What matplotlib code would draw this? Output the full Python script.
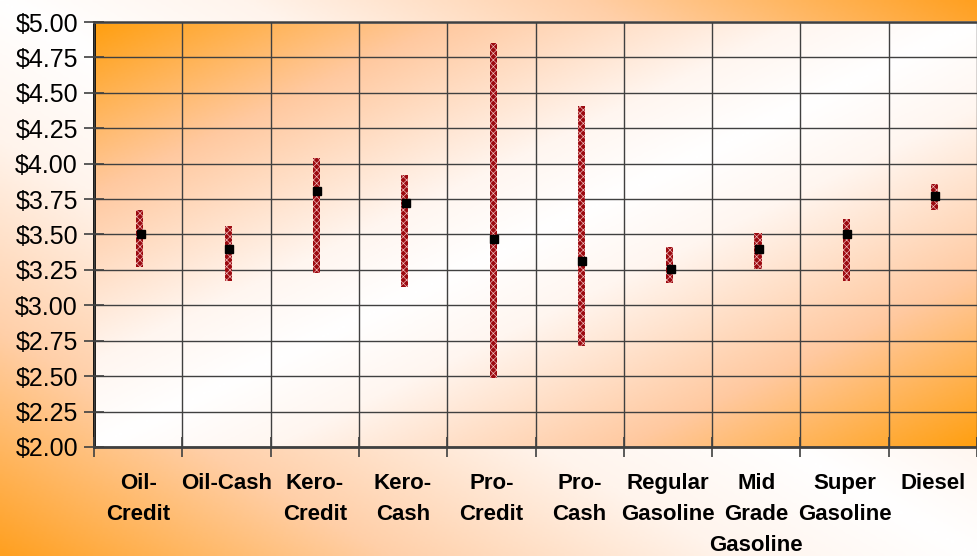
import numpy as np
import matplotlib
matplotlib.use("Agg")
import matplotlib.pyplot as plt
from matplotlib.colors import LinearSegmentedColormap

categories = ["Oil-\nCredit", "Oil-Cash", "Kero-\nCredit", "Kero-\nCash", "Pro-\nCredit",
              "Pro-\nCash", "Regular\nGasoline", "Mid\nGrade\nGasoline", "Super\nGasoline", "Diesel"]
high = [3.67, 3.56, 4.04, 3.92, 4.85, 4.41, 3.41, 3.51, 3.61, 3.86]
low = [3.27, 3.17, 3.23, 3.13, 2.49, 2.71, 3.16, 3.26, 3.17, 3.67]
avg = [3.50, 3.40, 3.81, 3.72, 3.47, 3.31, 3.26, 3.40, 3.50, 3.77]
yticks = np.arange(2.0, 5.001, 0.25)
ytick_labels = ["${:.2f}".format(v) for v in yticks]

plt.rcParams['font.family'] = ['Liberation Sans', 'DejaVu Sans']
plt.rcParams['hatch.linewidth'] = 0.45

W, H = 977, 556
fig = plt.figure(figsize=(W / 100, H / 100), dpi=100)

# figure background gradient: orange at top-right and bottom-left, white along main diagonal
bg = fig.add_axes([0, 0, 1, 1], zorder=-10)
nx, ny = 400, 230
xx, yy = np.meshgrid(np.linspace(0, 1, nx), np.linspace(0, 1, ny))  # yy=0 top
u = np.abs(xx - yy)
cmap_bg = LinearSegmentedColormap.from_list("bg", [(0, "#ffffff"), (0.25, "#fff4ec"), (0.6, "#ffcfa8"), (1, "#ffa020")])
bg.imshow(u, cmap=cmap_bg, aspect="auto", extent=[0, 1, 0, 1], origin="upper", vmin=0, vmax=1)
bg.set_axis_off()

ax = fig.add_axes([94 / W, (H - 447) / H, 1 - 94 / W, (447 - 22) / H])
ax.set_xlim(0, len(categories))
ax.set_ylim(2.0, 5.0)

# plot area gradient: orange at top-left and bottom-right, white along anti-diagonal
u2 = np.abs(xx + yy - 1)
cmap_pa = LinearSegmentedColormap.from_list("pa", [(0, "#ffffff"), (0.2, "#fff6f0"), (0.6, "#ffc9a0"), (1, "#ff9f10")])
ax.imshow(u2, cmap=cmap_pa, aspect="auto", extent=[0, len(categories), 2.0, 5.0],
          origin="upper", vmin=0, vmax=1, zorder=0)

x = np.arange(len(categories)) + 0.52
heights = np.array(high) - np.array(low)
ax.bar(x, heights, bottom=low, width=0.08, color="#9c0a10", edgecolor="none", zorder=3)
ax.bar(x, heights, bottom=low, width=0.08, facecolor="none", edgecolor="#f2c4c4",
       hatch="xxxxx", linewidth=0, zorder=4)
ax.plot(x + 0.01, avg, linestyle="none", marker="s", markersize=6, color="black", zorder=5)

ax.set_yticks(yticks)
ax.set_yticklabels(ytick_labels, fontsize=18)
ax.set_xticks(np.arange(0, len(categories) + 1))
ax.set_xticklabels([])
ax.set_xticks(np.arange(len(categories)) + 0.5, minor=True)
ax.set_xticklabels(categories, minor=True, fontsize=16, fontweight="bold", linespacing=1.6, va="top")
ax.tick_params(axis="x", which="minor", length=0, pad=19)
ax.tick_params(axis="x", which="major", direction="inout", length=15, width=1.2, color="#404040")
ax.tick_params(axis="y", direction="inout", length=15, width=1.2, color="#404040", pad=4)

ax.grid(True, which="major", color="#404040", linewidth=1.0, zorder=1)
ax.set_axisbelow(False)
for gl in ax.get_xgridlines() + ax.get_ygridlines():
    gl.set_zorder(2)

ax.spines["left"].set_color("black")
ax.spines["left"].set_linewidth(2)
ax.spines["bottom"].set_color("#404040")
ax.spines["bottom"].set_linewidth(2)
ax.spines["top"].set_color("#606060")
ax.spines["top"].set_linewidth(2)
ax.spines["right"].set_visible(False)

fig.savefig("out.png", dpi=100)
